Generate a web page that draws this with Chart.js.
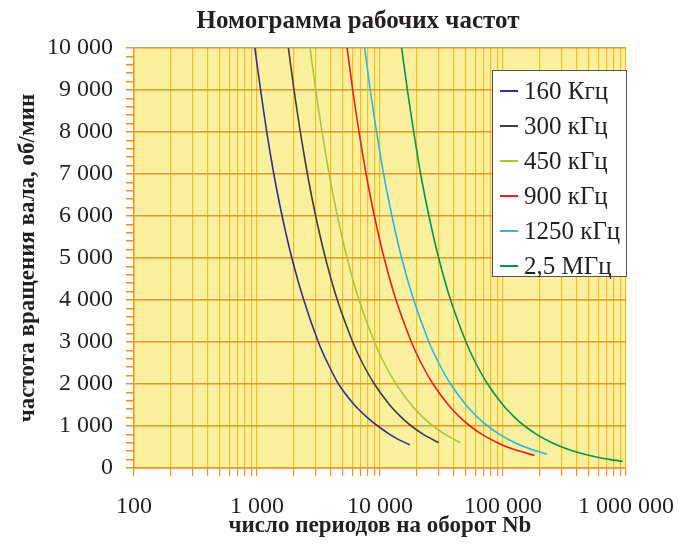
<html>
  <head>
    <title>Номограмма рабочих частот</title>
    <style>
      body {
        margin: 0;
        background: #ffffff;
      }
      .chart-container {
        position: relative;
        width: 690px;
        height: 544px;
      }
    </style>
    <script src="https://cdn.jsdelivr.net/npm/chart.js"></script>
  </head>
  <body>
    <div class="chart-container">
      <canvas id="nomogram"></canvas>
    </div>

    <script>
      // values: x = periods per revolution, y = rpm
      const seriesLabels = ["160 Кгц", "300 кГц", "450 кГц", "900 кГц", "1250 кГц", "2,5 МГц"];
      const seriesColors = ["#2e3192", "#3c3c3c", "#a8c83c", "#ed1c24", "#29b8e6", "#00964a"];

      const rpm160 = [10000, 9000, 8000, 7000, 6000, 5000, 4000, 3000, 2500, 2000, 1500, 1200, 1000, 800, 700, 550];
      const nb160 = [960, 1070, 1200, 1370, 1600, 1920, 2400, 3150, 3750, 4600, 6200, 7900, 9600, 12000, 13700, 17500];

      const rpm300 = [10000, 9000, 8000, 7000, 6000, 5000, 4000, 3000, 2500, 2000, 1500, 1200, 1000, 800, 600];
      const nb300 = [1800, 2000, 2250, 2570, 3000, 3600, 4500, 6000, 7200, 9000, 12000, 15000, 18000, 22500, 30000];

      const rpm450 = [10000, 9000, 8000, 7000, 6000, 5000, 4000, 3000, 2500, 2000, 1500, 1200, 1000, 800, 600];
      const nb450 = [2700, 3000, 3380, 3860, 4500, 5400, 6750, 9000, 10800, 13500, 18000, 22500, 27000, 33800, 45000];

      const rpm900 = [10000, 9000, 8000, 7000, 6000, 5000, 4000, 3000, 2500, 2000, 1500, 1200, 1000, 800, 600, 450, 300];
      const nb900 = [5400, 6000, 6750, 7710, 9000, 10800, 13500, 18000, 21600, 27000, 36000, 45000, 54000, 67500, 90000, 120000, 180000];

      const rpm1250 = [10000, 9000, 8000, 7000, 6000, 5000, 4000, 3000, 2500, 2000, 1500, 1200, 1000, 800, 600, 450, 330];
      const nb1250 = [7500, 8330, 9380, 10700, 12500, 15000, 18800, 25000, 30000, 37500, 50000, 62500, 75000, 93800, 125000, 167000, 227000];

      const rpm2500 = [10000, 9000, 8000, 7000, 6000, 5000, 4000, 3000, 2500, 2000, 1500, 1200, 1000, 800, 600, 450, 350, 250, 200, 160];
      const nb2500 = [15000, 16700, 18800, 21400, 25000, 30000, 37500, 50000, 60000, 75000, 100000, 125000, 150000, 187500, 250000, 333000, 429000, 600000, 750000, 937000];

      const seriesX = [nb160, nb300, nb450, nb900, nb1250, nb2500];
      const seriesY = [rpm160, rpm300, rpm450, rpm900, rpm1250, rpm2500];

      // axis ticks
      const xTicks = [100, 200, 300, 400, 500, 600, 700, 800, 900,
        1000, 2000, 3000, 4000, 5000, 6000, 7000, 8000, 9000,
        10000, 20000, 30000, 40000, 50000, 60000, 70000, 80000, 90000,
        100000, 200000, 300000, 400000, 500000, 600000, 700000, 800000, 900000, 1000000];
      const xLabelled = [100, 1000, 10000, 100000, 1000000];
      const yTicks = [];
      for (let v = 0; v <= 10000; v += 200) yTicks.push(v);

      const textColor = "#231f20";
      const serif = "'Liberation Serif', 'Times New Roman', serif";
      const orange = "#f39325";
      const gold = "#f9bd20";

      function spaced(v) {
        return String(v).replace(/\B(?=(\d{3})+(?!\d))/g, " ");
      }

      const datasets = seriesLabels.map((label, i) => ({
        label: label,
        data: seriesX[i].map((x, j) => ({ x: x, y: seriesY[i][j] })),
        borderColor: seriesColors[i],
        backgroundColor: seriesColors[i],
        borderWidth: 1.6,
        pointRadius: 0,
        tension: 0.2,
        fill: false
      }));

      // yellow plot background
      const plotBg = {
        id: "plotBg",
        beforeDraw(chart) {
          const a = chart.chartArea;
          const ctx = chart.ctx;
          ctx.save();
          ctx.fillStyle = "#fbf09e";
          ctx.fillRect(a.left, a.top, a.right - a.left, a.bottom - a.top);
          ctx.restore();
        }
      };

      // title and boxed legend, drawn on the canvas
      const decor = {
        id: "decor",
        afterDraw(chart) {
          const ctx = chart.ctx;
          ctx.save();
          ctx.fillStyle = textColor;
          ctx.font = "bold 25px " + serif;
          ctx.textAlign = "center";
          ctx.textBaseline = "middle";
          ctx.fillText("Номограмма рабочих частот", 358, 22);

          const bx = 492, by = 70, bw = 134, bh = 206;
          ctx.fillStyle = "#ffffff";
          ctx.fillRect(bx, by, bw, bh);
          ctx.strokeStyle = "#555555";
          ctx.lineWidth = 1;
          ctx.strokeRect(bx + 0.5, by + 0.5, bw, bh);

          ctx.font = "25px " + serif;
          ctx.textAlign = "left";
          chart.data.datasets.forEach((ds, i) => {
            const y = 91 + i * 35;
            ctx.strokeStyle = ds.borderColor;
            ctx.lineWidth = 2;
            ctx.beginPath();
            ctx.moveTo(500, y);
            ctx.lineTo(518, y);
            ctx.stroke();
            ctx.fillStyle = textColor;
            ctx.fillText(ds.label, 524, y + 1);
          });
          ctx.restore();
        }
      };

      new Chart(document.getElementById("nomogram"), {
        type: "line",
        data: { datasets: datasets },
        options: {
          responsive: true,
          maintainAspectRatio: false,
          animation: false,
          devicePixelRatio: 1,
          layout: { padding: { top: 48, right: 59, left: 0, bottom: 0 } },
          plugins: {
            legend: { display: false },
            title: { display: false },
            tooltip: { enabled: false }
          },
          scales: {
            x: {
              type: "logarithmic",
              min: 100,
              max: 1000000,
              afterBuildTicks: (scale) => {
                scale.ticks = xTicks.map((v) => ({ value: v }));
              },
              afterFit: (scale) => {
                scale.height = 76;
              },
              ticks: {
                autoSkip: false,
                maxRotation: 0,
                padding: 16,
                color: textColor,
                font: { family: serif, size: 24 },
                callback: (v) => (xLabelled.includes(v) ? spaced(v) : "")
              },
              grid: {
                color: gold,
                tickColor: orange,
                tickLength: 8,
                lineWidth: 1.2
              },
              border: { color: orange, width: 1.5 },
              title: {
                display: true,
                text: "число периодов на оборот Nb",
                color: textColor,
                font: { family: serif, size: 23, weight: "bold" },
                padding: { top: 0, bottom: 4 }
              }
            },
            y: {
              type: "linear",
              min: 0,
              max: 10000,
              afterBuildTicks: (scale) => {
                scale.ticks = yTicks.map((v) => ({ value: v }));
              },
              afterFit: (scale) => {
                scale.width = 134;
              },
              ticks: {
                autoSkip: false,
                padding: 13,
                color: textColor,
                font: { family: serif, size: 24 },
                callback: (v) => (v % 1000 === 0 ? spaced(v) : "")
              },
              grid: {
                color: (c) => (c.tick && c.tick.value % 1000 === 0 ? orange : "rgba(0,0,0,0)"),
                tickColor: orange,
                tickLength: 8,
                lineWidth: 1.5
              },
              border: { color: orange, width: 1.5 },
              title: {
                display: true,
                text: "частота вращения вала, об/мин",
                color: textColor,
                font: { family: serif, size: 23, weight: "bold" },
                padding: { top: 14, bottom: 0 }
              }
            }
          }
        },
        plugins: [plotBg, decor]
      });
    </script>
  </body>
</html>
